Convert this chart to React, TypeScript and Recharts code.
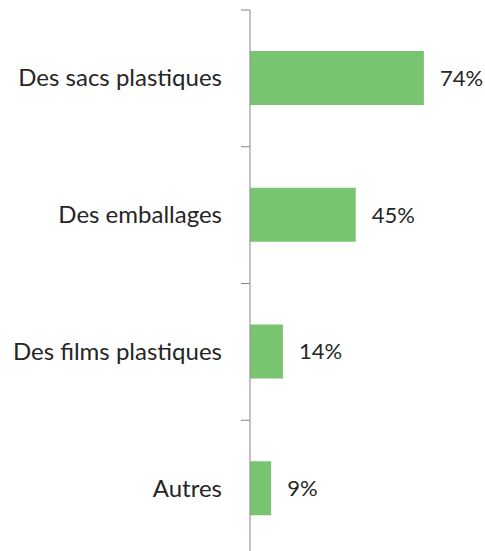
import React from "react";
import { BarChart, Bar, XAxis, YAxis, LabelList } from "recharts";

const categories = ["Des sacs plastiques", "Des emballages", "Des films plastiques", "Autres"];
const values = [74, 45, 14, 9];

const data = categories.map((name, i) => ({ name, value: values[i] }));

const FONT = "Lato, 'Open Sans', sans-serif";
const TEXT = "#262626";
const AXIS = "#868686";
const BAR = "#78C470";
const TICK_SIZE = 9;
const TICK_MARGIN = 19;

const CategoryTick = (props: any) => {
  const { x, y, payload, index, visibleTicksCount } = props;
  const half = payload && payload.offset ? payload.offset : 0;
  const lx1 = x + TICK_MARGIN;
  const lx2 = lx1 + TICK_SIZE;
  return (
    <g>
      <line x1={lx1} x2={lx2} y1={y - half} y2={y - half} stroke={AXIS} strokeWidth={1} />
      {index === visibleTicksCount - 1 ? (
        <line x1={lx1} x2={lx2} y1={y + half} y2={y + half} stroke={AXIS} strokeWidth={1} />
      ) : null}
      <text x={x} y={y} dy={8} textAnchor="end" fill={TEXT} fontSize={24} fontFamily={FONT}>
        {payload.value}
      </text>
    </g>
  );
};

export default function App() {
  return (
    <div style={{ position: "absolute", left: 0, top: 0, width: 485, height: 551, overflow: "hidden", background: "#fff" }}>
      <BarChart
        width={485}
        height={560}
        data={data}
        layout="vertical"
        margin={{ top: 10, right: 0, bottom: 3, left: 0 }}
        barSize={54}
      >
        <XAxis type="number" domain={[0, 100]} hide />
        <YAxis
          type="category"
          dataKey="name"
          width={250}
          axisLine={{ stroke: AXIS, strokeWidth: 1 }}
          tickLine={false}
          tickSize={TICK_SIZE}
          tickMargin={TICK_MARGIN}
          tick={<CategoryTick />}
          interval={0}
        />
        <Bar dataKey="value" fill={BAR} isAnimationActive={false}>
          <LabelList
            dataKey="value"
            position="right"
            offset={16}
            formatter={(v: any) => `${v}%`}
            fill={TEXT}
            fontSize={22}
            fontFamily={FONT}
          />
        </Bar>
      </BarChart>
    </div>
  );
}
